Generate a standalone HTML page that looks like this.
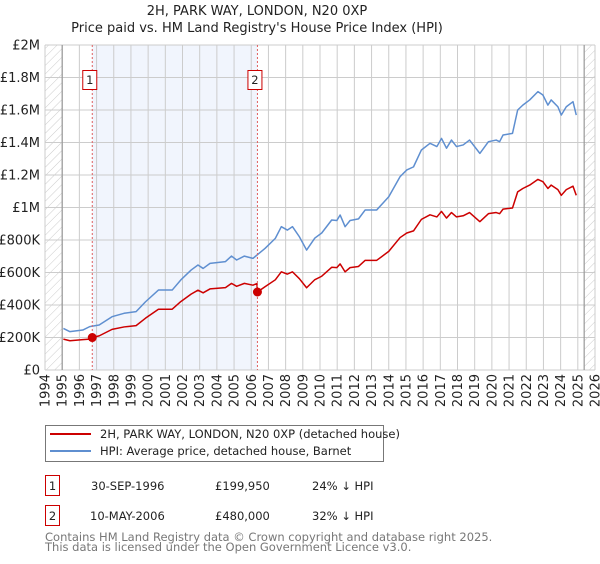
<!DOCTYPE html>
<html><head><meta charset="utf-8"><style>
body{margin:0;background:#fff;font-family:"DejaVu Sans","Liberation Sans",sans-serif;}
svg text{font-family:"DejaVu Sans","Liberation Sans",sans-serif;}
</style></head><body>
<svg id="chart" width="600" height="560" viewBox="0 0 600 560" xmlns="http://www.w3.org/2000/svg">
<defs>
<pattern id="hatch" patternUnits="userSpaceOnUse" width="6" height="6" patternTransform="rotate(45)">
<line x1="0" y1="0" x2="0" y2="6" stroke="#ccc" stroke-width="1"/>
</pattern>
</defs>
<text x="257" y="15" font-size="13" text-anchor="middle" fill="#222">2H, PARK WAY, LONDON, N20 0XP</text>
<text x="257" y="32" font-size="13" text-anchor="middle" fill="#222">Price paid vs. HM Land Registry's House Price Index (HPI)</text>
<g id="plot"></g>
<g>
<rect x="45.5" y="425.5" width="338" height="36" fill="#fff" stroke="#777"/>
<line x1="50" y1="434" x2="91" y2="434" stroke="#cc0000" stroke-width="2"/>
<text x="100" y="438" font-size="11.5" fill="#222">2H, PARK WAY, LONDON, N20 0XP (detached house)</text>
<line x1="50" y1="451" x2="91" y2="451" stroke="#5f8fd0" stroke-width="2"/>
<text x="100" y="455" font-size="11.5" fill="#222">HPI: Average price, detached house, Barnet</text>
</g>
<g font-size="11.5" fill="#222">
<rect x="45.5" y="475.5" width="14" height="20" fill="#fff" stroke="#cc0000"/>
<text x="52.5" y="490" text-anchor="middle">1</text>
<text x="91" y="490">30-SEP-1996</text>
<text x="215" y="490">£199,950</text>
<text x="312" y="490">24% ↓ HPI</text>
<rect x="45.5" y="505.5" width="14" height="20" fill="#fff" stroke="#cc0000"/>
<text x="52.5" y="520" text-anchor="middle">2</text>
<text x="90" y="520">10-MAY-2006</text>
<text x="215" y="520">£480,000</text>
<text x="312" y="520">32% ↓ HPI</text>
</g>
<text x="45" y="541" font-size="11.5" fill="#777">Contains HM Land Registry data © Crown copyright and database right 2025.</text>
<text x="45" y="551" font-size="11.5" fill="#777">This data is licensed under the Open Government Licence v3.0.</text>
</svg>
<script>
const yTickValues=[0,200000,400000,600000,800000,1000000,1200000,1400000,1600000,1800000,2000000];
const yTickLabels=["£0","£200K","£400K","£600K","£800K","£1M","£1.2M","£1.4M","£1.6M","£1.8M","£2M"];
const xTickYears=[1994,1995,1996,1997,1998,1999,2000,2001,2002,2003,2004,2005,2006,2007,2008,2009,2010,2011,2012,2013,2014,2015,2016,2017,2018,2019,2020,2021,2022,2023,2024,2025,2026];
const hpiYears=[1995.07,1995.45,1996.2,1996.6,1997.15,1997.9,1998.6,1999.3,1999.85,2000.6,2001.4,2001.9,2002.5,2002.9,2003.2,2003.6,2004.5,2004.85,2005.15,2005.6,2006.1,2006.8,2007.4,2007.75,2008.1,2008.4,2008.8,2009.22,2009.7,2010.1,2010.68,2010.98,2011.17,2011.46,2011.75,2012.24,2012.63,2013.3,2014.0,2014.66,2015.05,2015.44,2015.9,2016.4,2016.8,2017.07,2017.36,2017.65,2017.94,2018.33,2018.7,2019.3,2019.8,2020.25,2020.45,2020.65,2021.2,2021.5,2021.8,2022.2,2022.68,2022.97,2023.26,2023.45,2023.84,2024.04,2024.33,2024.72,2024.91];
const hpiValues=[256,236,246,267,277,328,349,359,420,492,492,554,615,646,625,656,667,701,677,701,687,748,810,882,861,882,820,738,812,843,923,920,954,882,920,930,985,985,1066,1190,1231,1250,1354,1395,1375,1425,1365,1415,1375,1385,1415,1333,1405,1415,1405,1446,1456,1600,1630,1662,1713,1692,1630,1662,1620,1569,1620,1651,1569];
const priceYears=[1995.07,1995.45,1996.2,1996.6,1996.75,1997.15,1997.9,1998.6,1999.3,1999.85,2000.6,2001.4,2001.9,2002.5,2002.9,2003.2,2003.6,2004.5,2004.85,2005.15,2005.6,2006.1,2006.33,2006.36,2006.8,2007.4,2007.75,2008.1,2008.4,2008.8,2009.22,2009.7,2010.1,2010.68,2010.98,2011.17,2011.46,2011.75,2012.24,2012.63,2013.3,2014.0,2014.66,2015.05,2015.44,2015.9,2016.4,2016.8,2017.07,2017.36,2017.65,2017.94,2018.33,2018.7,2019.3,2019.8,2020.25,2020.45,2020.65,2021.2,2021.5,2021.8,2022.2,2022.68,2022.97,2023.26,2023.45,2023.84,2024.04,2024.33,2024.72,2024.91];
const priceValues=[190,180,187,190,200,210,250,265,273,319,374,374,421,467,491,475,499,507,533,515,533,522,532,480,512,555,604,590,604,562,506,556,577,632,630,653,604,630,637,675,675,730,815,843,856,927,955,942,976,935,969,942,949,969,913,962,969,962,990,997,1096,1117,1138,1173,1159,1117,1138,1110,1075,1110,1131,1075];
const saleYears=[1996.75,2006.36];
const saleValues=[199950,480000];
const saleLabels=["1","2"];
const dataStart=1995.0, dataEnd=2025.37;

const X0=45,X1=595,Y0=370,Y1=45;
const xs=y=>X0+(y-1994)/(2026-1994)*(X1-X0);
const ys=v=>Y0-v/2000000*(Y0-Y1);
const NS="http://www.w3.org/2000/svg";
const g=document.getElementById('plot');
function mk(t,a){const e=document.createElementNS(NS,t);for(const k in a)e.setAttribute(k,a[k]);g.appendChild(e);return e;}

let r=mk('rect',{x:xs(saleYears[0]),y:Y1,width:xs(saleYears[1])-xs(saleYears[0]),height:Y0-Y1,fill:'#f1f5fd'});


r=mk('rect',{x:X0,y:Y1,width:xs(dataStart)-X0,height:Y0-Y1,fill:'url(#hatch)'});


r=mk('rect',{x:xs(dataEnd),y:Y1,width:X1-xs(dataEnd),height:Y0-Y1,fill:'url(#hatch)'});



yTickValues.forEach((v,i)=>{
  const l=mk('line',{x1:X0,x2:X1,y1:ys(v),y2:ys(v),stroke:'#ccc','stroke-width':1});
  
  
  const t=mk('text',{x:X0-5,y:ys(v)+4.5,'font-size':13,'text-anchor':'end',fill:'#222'});
  t.textContent=yTickLabels[i];
  
  
});
xTickYears.forEach(yr=>{
  const l=mk('line',{x1:xs(yr),x2:xs(yr),y1:Y1,y2:Y0,stroke:'#ccc','stroke-width':1});
  
  
  const x=xs(yr)+4.5,y=374;
  const t=mk('text',{x:x,y:y,'font-size':13,'text-anchor':'end',fill:'#222',transform:`rotate(-90 ${x} ${y})`});
  t.textContent=yr;
  
  
});
[dataStart,dataEnd].forEach(yr=>{
  const l=mk('line',{x1:xs(yr),x2:xs(yr),y1:Y1,y2:Y0,stroke:'#999','stroke-width':1.2});
  
  
});

let p=mk('polyline',{points:hpiYears.map((y,i)=>xs(y)+','+ys(hpiValues[i]*1000)).join(' '),fill:'none',stroke:'#5f8fd0','stroke-width':1.5,'stroke-linejoin':'round'});


p=mk('polyline',{points:priceYears.map((y,i)=>xs(y)+','+ys(priceValues[i]*1000)).join(' '),fill:'none',stroke:'#cc0000','stroke-width':1.5,'stroke-linejoin':'round'});



saleYears.forEach((yr,i)=>{
  const l=mk('line',{x1:xs(yr),x2:xs(yr),y1:Y1,y2:Y0,stroke:'#e06060','stroke-width':1,'stroke-dasharray':'2,2'});
  
  
  const c=mk('circle',{cx:xs(yr),cy:ys(saleValues[i]),r:4.5,fill:'#cc0000'});
  
  
  const b=mk('rect',{x:xs(yr)-9.5,y:70.5,width:14,height:19,fill:'#fff',stroke:'#cc0000'});
  
  
  const t=mk('text',{x:xs(yr)-2.5,y:84,'font-size':11.5,'text-anchor':'middle',fill:'#222'});
  t.textContent=saleLabels[i];
  
  
});
</script>
</body></html>
